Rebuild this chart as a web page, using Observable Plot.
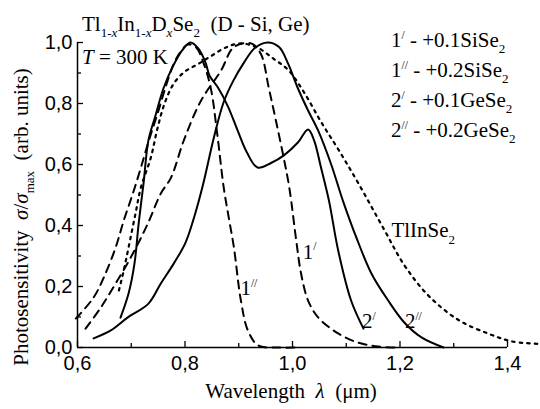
<!DOCTYPE html>
<html>
<head>
<meta charset="utf-8">
<script src="https://cdn.jsdelivr.net/npm/d3@7"></script>
<script src="https://cdn.jsdelivr.net/npm/@observablehq/plot@0.6"></script>
<style>
  html, body { margin: 0; padding: 0; background: #fff; }
  svg text { white-space: pre; }
  svg text.serif, svg text.serif tspan { font-family: "Liberation Serif", "Times New Roman", "DejaVu Serif", serif !important; }
</style>
</head>
<body>
<div id="chart"></div>
<script>
// ---- data ----
const xTicksMajor = [0.6, 0.8, 1.0, 1.2, 1.4];
const xTicksMinor = [0.7, 0.9, 1.1, 1.3];
const yTicksMajor = [0.0, 0.2, 0.4, 0.6, 0.8, 1.0];
const yTicksMinor = [0.1, 0.3, 0.5, 0.7, 0.9];

// TlInSe2 (dotted)
const lamTl = [0.677,0.686,0.695,0.708,0.718,0.736,0.749,0.762,0.779,0.800,0.825,0.848,0.875,0.904,0.936,0.966,0.992,1.022,1.053,1.085,1.122,1.171,1.208,1.253,1.309,1.365,1.408,1.458];
const sigTl = [0.187,0.252,0.328,0.440,0.525,0.620,0.720,0.800,0.865,0.905,0.930,0.955,0.983,0.997,0.982,0.945,0.910,0.835,0.740,0.650,0.540,0.385,0.270,0.170,0.090,0.045,0.020,0.012];

// 1' : +0.1 SiSe2 (dashed)
const lam1a = [0.615,0.643,0.671,0.703,0.731,0.755,0.774,0.798,0.830,0.867,0.891,0.923,0.941,0.956,0.969,0.982,0.994,1.007,1.016,1.029,1.048,1.085,1.122,1.160,1.200];
const sig1a = [0.062,0.130,0.210,0.308,0.407,0.505,0.557,0.680,0.810,0.908,0.985,0.997,0.963,0.850,0.745,0.636,0.525,0.350,0.242,0.154,0.098,0.046,0.016,0.003,0.000];

// 1'' : +0.2 SiSe2 (dashed)
const lam1b = [0.597,0.630,0.649,0.671,0.686,0.703,0.718,0.733,0.749,0.765,0.779,0.790,0.805,0.820,0.835,0.848,0.860,0.872,0.882,0.891,0.904,0.917,0.936,0.973,1.010];
const sig1b = [0.095,0.164,0.230,0.328,0.416,0.505,0.590,0.680,0.767,0.860,0.930,0.965,0.993,0.985,0.930,0.850,0.700,0.525,0.420,0.328,0.154,0.056,0.007,0.000,0.000];

// 2' : +0.1 GeSe2 (solid)
const lam2a = [0.680,0.695,0.706,0.714,0.723,0.732,0.745,0.760,0.777,0.795,0.810,0.825,0.838,0.846,0.861,0.880,0.898,0.915,0.935,0.960,0.984,1.010,1.029,1.040,1.053,1.068,1.085,1.109,1.132];
const sig2a = [0.098,0.177,0.275,0.410,0.540,0.680,0.760,0.850,0.920,0.975,1.000,0.980,0.935,0.890,0.853,0.790,0.711,0.640,0.590,0.605,0.630,0.672,0.715,0.680,0.590,0.480,0.318,0.154,0.062];

// 2'' : +0.2 GeSe2 (solid)
const lam2b = [0.630,0.662,0.693,0.732,0.755,0.779,0.801,0.817,0.833,0.854,0.872,0.890,0.910,0.930,0.954,0.975,0.992,1.010,1.029,1.048,1.072,1.094,1.120,1.147,1.178,1.208,1.240,1.281];
const sig2b = [0.030,0.056,0.098,0.144,0.210,0.275,0.344,0.427,0.530,0.690,0.805,0.875,0.935,0.982,1.000,0.985,0.930,0.850,0.777,0.710,0.600,0.480,0.355,0.242,0.154,0.082,0.033,0.000];

const legendLines = [
  {n: "1", p: "/",  t: " - +0.1SiSe"},
  {n: "1", p: "//", t: " - +0.2SiSe"},
  {n: "2", p: "/",  t: " - +0.1GeSe"},
  {n: "2", p: "//", t: " - +0.2GeSe"}
];

// ---- chart ----
const W = 540, H = 409, mL = 77, mR = 33, mT = 42, mB = 62;
const plotW = W - mL - mR, plotH = H - mT - mB;
const pairs = (xs, ys) => xs.map((x, i) => [x, ys[i]]);
const fmt = d => d.toFixed(1).replace(".", ",");
const sans = "'Liberation Sans', Arial, sans-serif";

const chart = Plot.plot({
  width: W, height: H,
  marginLeft: mL, marginRight: mR, marginTop: mT, marginBottom: mB,
  style: {background: "white", fontFamily: sans},
  x: {domain: [0.6, 1.4], axis: null},
  y: {domain: [0, 1.0], axis: null},
  marks: [
    Plot.line(pairs(lamTl, sigTl), {stroke: "black", strokeWidth: 2.2, strokeDasharray: "2.5,5", curve: "catmull-rom"}),
    Plot.line(pairs(lam1a, sig1a), {stroke: "black", strokeWidth: 2, strokeDasharray: "8,6", curve: "catmull-rom"}),
    Plot.line(pairs(lam1b, sig1b), {stroke: "black", strokeWidth: 2, strokeDasharray: "8,6", curve: "catmull-rom"}),
    Plot.line(pairs(lam2a, sig2a), {stroke: "black", strokeWidth: 2, curve: "catmull-rom"}),
    Plot.line(pairs(lam2b, sig2b), {stroke: "black", strokeWidth: 2, curve: "catmull-rom"}),
    // axes lines
    Plot.ruleX([xTicksMajor[0]], {y1: yTicksMajor[0], y2: yTicksMajor[yTicksMajor.length - 1], stroke: "black", strokeWidth: 1.5}),
    Plot.ruleY([yTicksMajor[0]], {x1: xTicksMajor[0], x2: xTicksMajor[xTicksMajor.length - 1], stroke: "black", strokeWidth: 1.5}),
    // inward ticks
    Plot.tickX(xTicksMajor, {x: d => d, insetTop: plotH - 6, stroke: "black", strokeWidth: 1.3}),
    Plot.tickX(xTicksMinor, {x: d => d, insetTop: plotH - 4, stroke: "black", strokeWidth: 1.3}),
    Plot.tickY(yTicksMajor, {y: d => d, insetRight: plotW - 6, stroke: "black", strokeWidth: 1.3}),
    Plot.tickY(yTicksMinor, {y: d => d, insetRight: plotW - 4, stroke: "black", strokeWidth: 1.3}),
    // tick labels
    Plot.text(xTicksMajor, {x: d => d, y: 0, text: fmt, dy: 16, fontSize: 20, fontFamily: sans, fill: "black"}),
    Plot.text(yTicksMajor, {x: 0.6, y: d => d, text: fmt, dx: -5, textAnchor: "end", fontSize: 20, fontFamily: sans, fill: "black"})
  ]
});
document.getElementById("chart").appendChild(chart);

// ---- rich text annotations ----
const svg = d3.select(chart);
const sx = chart.scale("x"), sy = chart.scale("y");
const g = svg.append("g").attr("fill", "black").attr("text-anchor", "start");

function rich(x, y, parts, size, opts = {}) {
  const t = g.append("text")
    .attr("class", "serif")
    .attr("font-size", size)
    .attr("xml:space", "preserve")
    .attr("text-anchor", opts.anchor || (opts.rotate ? "middle" : "start"));
  if (opts.rotate) {
    t.attr("transform", `translate(${x},${y}) rotate(-90)`);
  } else {
    t.attr("x", x).attr("y", y);
  }
  let off = 0;
  for (const p of parts) {
    const s = t.append("tspan").text(p.t);
    const target = p.sub ? size * 0.3 : p.sup ? -size * 0.4 : 0;
    s.attr("dy", target - off);
    off = target;
    if (p.sub || p.sup) s.attr("font-size", size * (p.sup ? 0.55 : 0.62));
    if (p.it) s.attr("font-style", "italic");
  }
  return t;
}

const FS = 21;
// title
rich(82, 31, [
  {t: "Tl"}, {t: "1-", sub: true}, {t: "x", sub: true, it: true},
  {t: "In"}, {t: "1-", sub: true}, {t: "x", sub: true, it: true},
  {t: "D"}, {t: "x", sub: true, it: true},
  {t: "Se"}, {t: "2", sub: true},
  {t: "  (D - Si, Ge)"}
], FS);
// temperature
rich(82, 64, [{t: "T", it: true}, {t: " = 300 K"}], FS);
// legend
legendLines.forEach((l, i) => {
  rich(391, 47 + i * 30, [{t: l.n}, {t: l.p, sup: true}, {t: l.t}, {t: "2", sub: true}], FS);
});
// curve labels
rich(sx.apply(1.02), sy.apply(0.29), [{t: "1"}, {t: "/", sup: true}], FS);
rich(sx.apply(0.904), sy.apply(0.17), [{t: "1"}, {t: "//", sup: true}], FS);
rich(sx.apply(1.13), sy.apply(0.062), [{t: "2"}, {t: "/", sup: true}], FS);
rich(sx.apply(1.21), sy.apply(0.062), [{t: "2"}, {t: "//", sup: true}], FS);
rich(sx.apply(1.185), sy.apply(0.36), [{t: "TlInSe"}, {t: "2", sub: true}], FS);
// axis titles
rich(291, 398, [{t: "Wavelength  "}, {t: "λ", it: true}, {t: "  (μm)"}], FS, {anchor: "middle"});
rich(28, 217, [
  {t: "Photosensitivity  "}, {t: "σ", it: true}, {t: "/"}, {t: "σ", it: true},
  {t: "max", sub: true}, {t: "  (arb. units)"}
], FS, {rotate: true});
</script>
</body>
</html>
